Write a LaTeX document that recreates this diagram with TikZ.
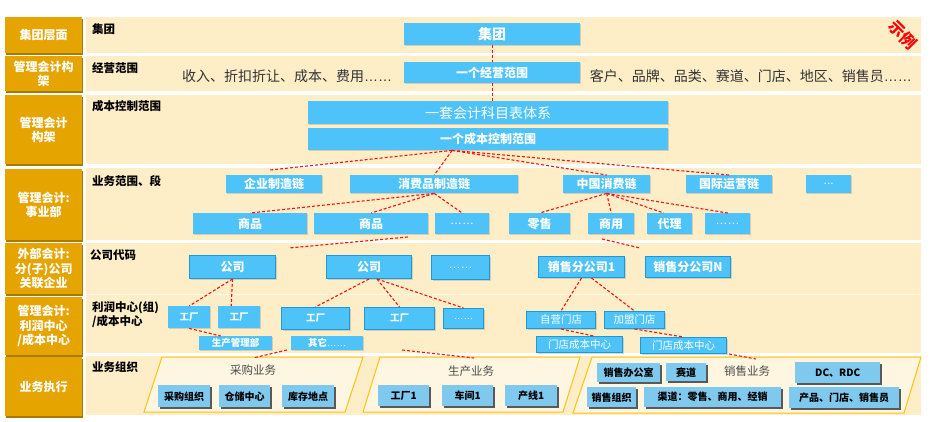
\documentclass[tikz,border=0pt]{standalone}
\usepackage{fontspec}
\setmainfont{Noto Sans CJK SC}
\newfontfamily\lat{Liberation Sans}
\usetikzlibrary{shadows}
\definecolor{gold}{HTML}{E5A400}
\definecolor{golddk}{HTML}{A87A00}
\definecolor{cream}{HTML}{FDEEC8}
\definecolor{sky}{HTML}{4DC3F9}
\definecolor{skydk}{HTML}{1A9AD6}
\definecolor{pale}{HTML}{80C9EE}
\definecolor{orng}{HTML}{FFC20E}
\definecolor{dred}{HTML}{FF1010}
\tikzset{
  lab/.style={fill=gold, text=white, font=\fontsize{12}{14.5}\selectfont\bfseries, align=center, inner sep=0pt,
    drop shadow={shadow xshift=0.8pt,shadow yshift=-1.8pt,fill=golddk,opacity=1}},
  sec/.style={font=\fontsize{11.5}{14}\selectfont\bfseries, text=black, inner sep=0pt, anchor=west, align=left},
  bb/.style={fill=sky, text=white, font=\fontsize{12}{14}\selectfont\bfseries, inner sep=0pt,
    drop shadow={shadow xshift=1pt,shadow yshift=-1.2pt,opacity=0.3}},
  bbd/.style={bb, draw=skydk, line width=1pt},
  big/.style={font=\fontsize{14}{16}\selectfont\bfseries},
  bigr/.style={font=\fontsize{14}{16}\selectfont},
  sm/.style={font=\fontsize{9.5}{11}\selectfont\bfseries},
  md/.style={font=\fontsize{10.5}{12}\selectfont},
  ob/.style={fill=pale, text=black, font=\fontsize{10}{12}\selectfont\bfseries, inner sep=0pt,
    drop shadow={shadow xshift=1.5pt,shadow yshift=-1.5pt,fill=black!65,opacity=1}},
  para/.style={draw=orng, line width=1pt, fill=cream!55!white},
  rl/.style={draw=dred, dash pattern=on 3pt off 2pt, line width=1.1pt},
  plaintxt/.style={text=black!80, inner sep=0pt},
  ptxt/.style={text=black!70, font=\fontsize{11.5}{13}\selectfont, inner sep=0pt},
}
\newcommand\bx[7]{\node[#1,anchor=north west,minimum width={(#4-#2)*1pt},minimum height={(#5-#3)*1pt}] (#6) at (#2,#3) {#7};}
\begin{document}
\begin{tikzpicture}[x=1pt,y=-1pt]
\fill[white] (0,0) rectangle (936,422);
\useasboundingbox (0,0) rectangle (936,422);
% panels
\fill[cream] (86,17) rectangle (921,53);
\fill[cream] (86,56) rectangle (921,91);
\fill[cream] (86,95) rectangle (921,164);
\fill[cream] (86,168) rectangle (921,240);
\fill[cream] (86,243) rectangle (921,353);
\draw[cream!40!white, line width=0.8pt] (86,294.5) -- (921,294.5);
\fill[cream] (86,356) rectangle (921,415);
% left labels
\bx{lab}{5}{17}{82}{53}{L1}{集团层面}
\bx{lab}{5}{56}{82}{91}{L2}{管理会计构\\架}
\bx{lab}{5}{95}{82}{164}{L3}{管理会计\\构架}
\bx{lab}{5}{169}{82}{240}{L4}{管理会计:\\事业部}
\bx{lab}{5}{243}{82}{294}{L5}{外部会计:\\分(子)公司\\关联企业}
\bx{lab}{5}{297}{82}{355}{L6}{管理会计:\\利润中心\\/成本中心}
\bx{lab}{5}{357}{82}{416}{L7}{业务执行}
% section labels
\node[sec] (s1) at (92,29) {集团};
\node[sec] (s2) at (92,68) {经营范围};
\node[sec] (s3) at (92,106) {成本控制范围};
\node[sec] (s4) at (92,181) {业务范围、段};
\node[sec] (s5) at (90,255) {公司代码};
\node[sec] (s6) at (92,315) {利润中心(组)\\/成本中心};
\node[sec] (s7) at (92,367) {业务组织};
% plain texts
\node[plaintxt, anchor=west, font=\fontsize{14}{16}\selectfont] (t1) at (182,76) {收入、折扣折让、成本、费用{\lat ……}};
\node[plaintxt, anchor=east, font=\fontsize{14}{16}\selectfont] (t2) at (912,76) {客户、品牌、品类、赛道、门店、地区、销售员{\lat ……}};
\node[text=red, font=\fontsize{16}{17}\selectfont\bfseries, rotate=-45, inner sep=0pt] (sl) at (903,35) {示例};
% parallelograms
\draw[para] (162,357) -- (363,357) -- (345,412) -- (144,412) -- cycle;
\draw[para] (380,357) -- (580,357) -- (563,412) -- (363,412) -- cycle;
\draw[para] (592,357) -- (921,357) -- (904,413) -- (573,413) -- cycle;
\node[ptxt] (cg) at (253,370) {采购业务};
\node[ptxt] (scw) at (471,371) {生产业务};
\node[ptxt] (xsw) at (747,371) {销售业务};
% rows 1-3
\bx{bb,big}{404}{23}{580}{45}{jt}{集团}
\bx{bb}{404}{62}{580}{83}{jy}{一个经营范围}
\bx{bb,bigr}{308}{101}{668}{124}{km}{一套会计科目表体系}
\bx{bb}{308}{128}{668}{150}{cc}{一个成本控制范围}
% row 4
\bx{bb}{226}{175}{322}{193}{qy}{企业制造链}
\bx{bb}{350}{175}{518}{193}{xf}{消费品制造链}
\bx{bb}{563}{175}{650}{193}{zg}{中国消费链}
\bx{bb}{686}{175}{772}{193}{gj}{国际运营链}
\bx{bb}{806}{175}{851}{193}{d1}{\lat\mdseries ...}
\bx{bb}{193}{213}{307}{234}{sp1}{商品}
\bx{bb}{314}{213}{428}{234}{sp2}{商品}
\bx{bb}{435}{213}{489}{234}{e1}{\lat\mdseries ……}
\bx{bb}{509}{213}{570}{234}{ls}{零售}
\bx{bb}{588}{213}{634}{234}{sy}{商用}
\bx{bb}{647}{213}{692}{234}{dl}{代理}
\bx{bb}{705}{213}{750}{234}{e2}{\lat\mdseries ……}
% row 5
\bx{bbd}{189}{255}{275}{278}{gs1}{公司}
\bx{bbd}{326}{255}{411}{278}{gs2}{公司}
\bx{bbd}{431}{255}{489}{279}{e5}{\lat\mdseries ……}
\bx{bbd}{538}{256}{624}{277}{xs1}{销售分公司1}
\bx{bbd}{645}{256}{730}{277}{xsn}{销售分公司N}
% row 6
\bx{bb,sm}{168}{306}{210}{328}{gc1}{工厂}
\bx{bb,sm}{218}{306}{260}{328}{gc2}{工厂}
\bx{bbd,sm}{281}{307}{349}{329}{gc3}{工厂}
\bx{bbd,sm}{364}{307}{434}{329}{gc4}{工厂}
\bx{bbd,sm}{443}{308}{483}{328}{e6}{\lat\mdseries ……}
\bx{bb,sm}{199}{336}{272}{350}{sc}{生产管理部}
\bx{bb,sm}{291}{336}{363}{350}{qt}{其它{\lat\mdseries ……}}
\bx{bbd,md}{526}{311}{595}{328}{zy}{自营门店}
\bx{bbd,md}{604}{311}{664}{328}{jm}{加盟门店}
\bx{bbd,md}{536}{336}{622}{352}{mc1}{门店成本中心}
\bx{bbd,md}{640}{337}{726}{353}{mc2}{门店成本中心}
% row 7
\bx{ob}{158}{385}{210}{407}{o1}{采购组织}
\bx{ob}{219}{385}{270}{407}{o2}{仓储中心}
\bx{ob}{282}{385}{334}{407}{o3}{库存地点}
\bx{ob}{378}{385}{429}{406}{o4}{工厂1}
\bx{ob}{442}{385}{493}{406}{o5}{车间1}
\bx{ob}{505}{385}{557}{406}{o6}{产线1}
\bx{ob}{597}{363}{660}{382}{o7}{销售办公室}
\bx{ob}{666}{363}{706}{381}{o8}{赛道}
\bx{ob}{795}{362}{880}{383}{o9}{DC、RDC}
\bx{ob}{587}{387}{636}{407}{o10}{销售组织}
\bx{ob}{644}{387}{781}{407}{o11}{渠道：零售、商用、经销}
\bx{ob}{789}{387}{899}{408}{o12}{产品、门店、销售员}
% connectors
\draw[rl] (jt.south) -- (jt.south |- jy.north);
\draw[rl] (jy.south) -- (jy.south |- km.north);
\coordinate (ccs) at ([xshift=-36pt]cc.south);
\draw[rl] (ccs) -- ([xshift=-4pt,yshift=5pt]qy.north);
\draw[rl] (ccs) -- (xf.north);
\draw[rl] (ccs) -- (zg.north);
\draw[rl] (ccs) -- (gj.north);
\draw[rl] (xf.south) -- (sp1.north);
\draw[rl] (xf.south) -- (sp2.north);
\draw[rl] (xf.south) -- (e1.north);
\draw[rl] (zg.south) -- (ls.north);
\draw[rl] (zg.south) -- (sy.north);
\draw[rl] (zg.south) -- ([xshift=-6pt]dl.north);
\draw[rl] (zg.south) -- (e2.north);
\coordinate (a1) at (408,237); \coordinate (a2) at (289,248);
\draw[rl] (a1) -- (a2);
\coordinate (b1) at (602,239); \coordinate (b2) at (640,248);
\draw[rl] (b1) -- (b2);
\draw[rl] (gs1.south) -- (gc1.north);
\draw[rl] (gs1.south) -- ([xshift=-8pt]gc2.north);
\draw[rl] (gs2.south) -- (gc3.north);
\draw[rl] ([xshift=8pt]gs2.south) -- (gc4.north);
\draw[rl] ([xshift=8pt]gs2.south) -- (e6.north);
\draw[rl] (xs1.south) -- (zy.north);
\draw[rl] ([xshift=10pt]xs1.south) -- (jm.north);
\draw[rl] (gc1.south) -- ([xshift=-15pt]sc.north);
\draw[rl] (zy.south) -- ([xshift=14pt]mc1.north);
\draw[rl] (jm.south) -- (mc2.north);
\coordinate (c1) at (287,350); \coordinate (c2) at (253,358);
\draw[rl] (c1) -- (c2);
\coordinate (d1a) at (402,350); \coordinate (d1b) at (474,358);
\draw[rl] (d1a) -- (d1b);
\coordinate (f1) at (729,354); \coordinate (f2) at (756,359);
\draw[rl] (f1) -- (f2);
\end{tikzpicture}
\end{document}
